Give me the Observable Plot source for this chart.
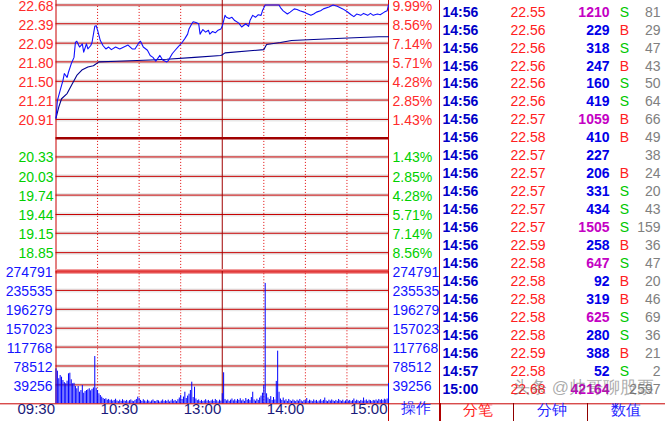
<!DOCTYPE html>
<html><head><meta charset="utf-8">
<script src="https://cdn.jsdelivr.net/npm/d3@7"></script>
<script src="https://cdn.jsdelivr.net/npm/@observablehq/plot@0.6"></script>
<style>
html,body{margin:0;padding:0;background:#fff;}
#wrap{position:relative;width:665px;height:421px;overflow:hidden;background:#fff;}
#wrap svg{position:absolute;left:0;top:0;}
.ln{position:absolute;background:#b00000;}
</style></head><body><div id="wrap"></div>
<script>
// ---------- data ----------
const prevClose = 20.62;
const priceUpTicks = ["22.68","22.39","22.09","21.80","21.50","21.21","20.91"];
const pctUpTicks = ["9.99%","8.56%","7.14%","5.71%","4.28%","2.85%","1.43%"];
const priceDownTicks = ["20.33","20.03","19.74","19.44","19.15","18.85"];
const pctDownTicks = ["1.43%","2.85%","4.28%","5.71%","7.14%","8.56%"];
const volumeTicks = [274791,235535,196279,157023,117768,78512,39256];
const timeTickLabels = ["09:30","10:30","13:00","14:00","15:00"];
const dottedGridTimes = ["10:00","10:30","11:00","13:30","14:00","14:30"];
const sessionBreak = ["13:00"];

const priceTimes = ["09:30","09:31","09:33","09:35","09:36","09:38","09:39","09:41","09:43","09:44","09:45","09:47","09:49","09:50","09:52","09:53","09:55","09:56","09:58","09:59","10:00","10:02","10:04","10:06","10:08","10:10","10:13","10:16","10:19","10:22","10:25","10:27","10:30","10:31","10:33","10:36","10:38","10:40","10:42","10:45","10:47","10:50","10:51","10:54","10:56","10:58","11:01","11:03","11:05","11:06","11:08","11:09","11:11","11:13","11:14","11:16","11:18","11:20","11:21","11:23","11:25","11:27","11:29","13:00","13:02","13:03","13:05","13:07","13:09","13:12","13:14","13:17","13:19","13:20","13:22","13:24","13:26","13:28","13:29","13:31","13:41","13:42","13:44","13:47","13:49","13:52","13:54","13:56","13:59","14:01","14:04","14:06","14:08","14:11","14:13","14:17","14:20","14:23","14:27","14:30","14:33","14:35","14:37","14:40","14:42","14:45","14:47","14:49","14:52","14:54","14:57","14:59","15:00"];
const priceValues = [20.93,21.20,21.36,21.51,21.62,21.56,21.64,21.77,21.87,22.10,22.12,22.03,22.08,21.95,22.08,22.00,22.05,22.10,22.35,22.36,22.29,22.13,22.05,22.00,22.03,21.99,22.03,22.00,22.03,22.06,22.00,22.00,22.10,22.12,22.03,21.98,21.90,21.87,21.81,21.90,21.83,21.80,21.82,21.93,21.98,22.03,22.10,22.16,22.23,22.31,22.39,22.42,22.41,22.39,22.23,22.30,22.26,22.29,22.23,22.27,22.25,22.29,22.31,22.35,22.52,22.49,22.47,22.49,22.44,22.40,22.34,22.39,22.35,22.44,22.52,22.49,22.53,22.52,22.59,22.68,22.68,22.64,22.59,22.54,22.57,22.62,22.61,22.59,22.57,22.55,22.52,22.54,22.57,22.59,22.62,22.65,22.68,22.66,22.62,22.58,22.53,22.50,22.54,22.52,22.55,22.52,22.55,22.52,22.54,22.53,22.57,22.59,22.68];

const avgTimes = ["09:30","09:32","09:34","09:38","09:41","09:45","09:49","09:53","09:57","10:01","10:14","10:38","10:50","11:10","11:29","13:00","13:02","13:30","13:32","13:42","13:50","14:10","14:31","14:53","15:00"];
const avgValues = [20.93,21.10,21.23,21.31,21.43,21.59,21.68,21.72,21.74,21.80,21.81,21.83,21.84,21.87,21.90,21.91,21.94,21.99,22.07,22.10,22.13,22.15,22.17,22.19,22.19];

// one bar per trading minute, from 09:30 to 15:00
const minuteVolumes = [
72700,67700,52000,58800,55300,48400,44000,41500,47000,62300,
63600,49800,41500,42500,36000,31200,35900,24100,27600,38000,
22000,25500,27600,29000,31200,27000,30000,33000,98200,32400,
27600,20800,17200,13800,11000,9000,10500,7500,9000,6500,
8000,5500,7000,9500,6000,4500,7500,5000,8500,6000,
5000,7000,4000,6500,8000,5500,4500,7000,9000,13800,
11000,7000,5000,8500,6000,4000,7500,5500,3500,6000,
8000,5000,4500,7000,6000,3500,5500,8000,4500,6500,
5000,7500,4000,6000,9000,5500,7000,4500,8500,12000,
17200,9000,14000,24100,11000,16000,20000,27600,44900,13000,
34500,10000,6500,8000,5000,7000,4500,6000,8500,5500,
7000,4500,6000,8000,5000,9000,6500,4000,7500,5500,
21000,64400,9000,6000,8000,5000,7500,10000,6000,8500,
5500,9000,7000,10500,6000,8000,5000,11000,7500,9000,
6500,13000,24000,8000,5500,9500,7000,12000,16000,22000,
38000,250000,20800,12000,9000,15000,7000,13000,8000,46500,
109300,24000,10000,7000,12000,6000,8500,5000,9000,6500,
5000,8000,6000,4500,7500,5500,9000,6000,4000,7000,
6500,11000,5000,7500,6000,4500,8000,5500,7000,4000,
6000,8500,5000,7000,12000,6000,4500,7500,5500,8000,
6000,4500,7000,5000,9000,6500,5000,7500,4000,6000,
8000,5500,7000,4500,6500,10000,5000,7500,6000,4500,
7000,5500,12000,6000,8000,5000,7500,6500,4500,7000,
6000,8000,5500,9000,7000,8500,6500,9500,8000,10000,
42164];

const tradeTimes = ["14:56","14:56","14:56","14:56","14:56","14:56","14:56","14:56","14:56","14:56","14:56","14:56","14:56","14:56","14:56","14:56","14:56","14:56","14:56","14:56","14:57","15:00"];
const tradePrices = [22.55,22.56,22.56,22.56,22.56,22.56,22.57,22.58,22.57,22.57,22.57,22.57,22.57,22.59,22.58,22.58,22.58,22.58,22.58,22.59,22.58,22.68];
const tradeVolumes = [1210,229,318,247,160,419,1059,410,227,206,331,434,1505,258,647,92,319,625,280,388,52,42164];
const tradeSides = ["S","B","S","B","S","S","B","B","","B","S","S","S","B","S","B","B","S","S","B","S",""];
const tradeCounts = [81,29,47,43,50,64,66,49,38,24,20,43,159,36,47,20,46,69,36,21,2,2597];
const tabLabels = ["分笔","分钟","数值"];
const actionLabel = "操作";
const watermark = "头条 @帅哥聊股票";

// ---------- helpers ----------
const toIdx = t => { const [h, m] = t.split(":").map(Number); const tm = h * 60 + m; return tm <= 690 ? tm - 570 : tm - 660; };
const FONT = "'Liberation Sans', Arial, sans-serif";
const xS = {domain: [0, 240], range: [55.5, 388], axis: null};
const baseStyle = {background: "transparent", fontFamily: FONT, overflow: "visible"};
const wrap = document.getElementById("wrap");
const RED = "#c80000";

const priceData = priceTimes.map((t, i) => ({x: toIdx(t), y: priceValues[i]}));
const avgData = avgTimes.map((t, i) => ({x: toIdx(t), y: avgValues[i]}));
const volData = minuteVolumes.map((v, i) => ({x: i, v}));
const upT = priceUpTicks.map((p, i) => ({y: +p, p, pct: pctUpTicks[i]}));
const dnT = priceDownTicks.map((p, i) => ({y: +p, p, pct: pctDownTicks[i]}));
const allPriceGrid = [...upT, ...dnT];

// ---------- price panel ----------
const pricePlot = Plot.plot({
  width: 665, height: 421, margin: 0,
  style: baseStyle,
  x: xS,
  y: {domain: [18.56, 22.68], range: [270.9, 4.5], axis: null},
  marks: [
    Plot.ruleY(allPriceGrid, {y: "y", x1: 0, x2: 240, stroke: "#e8e8e8", strokeWidth: 4}),
    Plot.ruleY(allPriceGrid, {y: "y", x1: 0, x2: 240, stroke: RED, strokeWidth: 1}),
    Plot.ruleY([prevClose], {x1: 0, x2: 240, stroke: "#a00000", strokeWidth: 2.5}),
    Plot.ruleX(dottedGridTimes, {x: toIdx, y1: 18.56, y2: 22.68, stroke: "#e00000", strokeDasharray: "1,2"}),
    Plot.ruleX(sessionBreak, {x: toIdx, y1: 18.56, y2: 22.8, stroke: "#a00000"}),
    Plot.ruleX([0], {y1: 18.56, y2: 22.8, stroke: RED}),
    Plot.ruleX([240], {y1: 18.56, y2: 22.8, stroke: RED}),
    Plot.line(avgData, {x: "x", y: "y", stroke: "#000090", strokeWidth: 1.1}),
    Plot.line(priceData, {x: "x", y: "y", stroke: "#1010ff", strokeWidth: 1.1}),
    Plot.text(upT, {y: "y", text: "p", frameAnchor: "left", dx: 53, dy: 1.5, textAnchor: "end", fill: "#ff2b2b", fontSize: 14}),
    Plot.text(upT, {y: "y", text: "pct", frameAnchor: "left", dx: 392, dy: 1.5, textAnchor: "start", fill: "#ff2b2b", fontSize: 14}),
    Plot.text(dnT, {y: "y", text: "p", frameAnchor: "left", dx: 53, dy: 1, textAnchor: "end", fill: "#00d000", fontSize: 14}),
    Plot.text(dnT, {y: "y", text: "pct", frameAnchor: "left", dx: 392, dy: 1, textAnchor: "start", fill: "#00d000", fontSize: 14})
  ]
});
wrap.appendChild(pricePlot);

// ---------- volume panel ----------
const volPlot = Plot.plot({
  width: 665, height: 421, margin: 0,
  style: baseStyle,
  x: xS,
  y: {domain: [0, 274791], range: [403.3, 271], axis: null},
  marks: [
    Plot.ruleY(volumeTicks.slice(1), {x1: 0, x2: 240, stroke: "#e8e8e8", strokeWidth: 4}),
    Plot.ruleY(volumeTicks.slice(1), {x1: 0, x2: 240, stroke: RED, strokeWidth: 1}),
    Plot.ruleY(volumeTicks.slice(0, 1), {x1: 0, x2: 240, stroke: "#f2a0a0", strokeWidth: 5}),
    Plot.ruleY(volumeTicks.slice(0, 1), {x1: 0, x2: 240, stroke: "#e23a3a", strokeWidth: 2.5}),
    Plot.ruleX(dottedGridTimes, {x: toIdx, y1: 0, y2: 274791, stroke: "#e00000", strokeDasharray: "1,2"}),
    Plot.ruleX(sessionBreak, {x: toIdx, y1: 0, y2: 274791, stroke: "#a00000"}),
    Plot.ruleX([0], {y1: 0, y2: 274791, stroke: RED}),
    Plot.ruleX([240], {y1: -40000, y2: 274791, stroke: RED}),
    Plot.ruleX(volData, {x: "x", y1: 0, y2: "v", stroke: "#0000ff", strokeWidth: 1}),
    Plot.ruleY([0], {stroke: RED, strokeWidth: 1}),
    Plot.text(volumeTicks, {y: d => d, text: d => String(d), frameAnchor: "left", dx: 52, dy: 1.5, textAnchor: "end", fill: "#1414ff", fontSize: 14}),
    Plot.text(volumeTicks, {y: d => d, text: d => String(d), frameAnchor: "left", dx: 392, dy: 1.5, textAnchor: "start", fill: "#1414ff", fontSize: 14}),
    Plot.text(timeTickLabels, {x: toIdx, text: d => d, frameAnchor: "bottom", dy: -8, dx: -1, textAnchor: "end", fill: "#1a1a7a", fontSize: 15})
  ]
});
wrap.appendChild(volPlot);

// ---------- trade detail table ----------
const rows = tradeTimes.map((t, i) => ({i, t, p: tradePrices[i].toFixed(2), v: String(tradeVolumes[i]), vol: tradeVolumes[i], s: tradeSides[i], c: String(tradeCounts[i])}));
const tablePlot = Plot.plot({
  width: 665, height: 421, margin: 0,
  style: baseStyle,
  y: {domain: [0, 21], range: [11.7, 388.6], axis: null},
  marks: [
    Plot.text(rows, {y: "i", text: "t", frameAnchor: "left", dx: 442, textAnchor: "start", fill: "#0000c8", fontWeight: "bold", fontSize: 14}),
    Plot.text(rows, {y: "i", text: "p", frameAnchor: "left", dx: 510, textAnchor: "start", fill: "#ff2020", fontSize: 14}),
    Plot.text(rows, {y: "i", text: "v", frameAnchor: "left", dx: 609, textAnchor: "end", fill: d => d.vol >= 500 ? "#c400c4" : "#0000e8", fontWeight: "bold", fontSize: 14}),
    Plot.text(rows, {y: "i", text: "s", frameAnchor: "left", dx: 624, textAnchor: "middle", fill: d => d.s === "B" ? "#ff2020" : "#00c800", fontSize: 14}),
    Plot.text(rows, {y: "i", text: "c", frameAnchor: "left", dx: 660, textAnchor: "end", fill: "#808080", fontSize: 14}),
    Plot.text([watermark], {frameAnchor: "bottom-left", dx: 583, dy: -29, textAnchor: "middle", fill: "rgba(90,90,90,0.5)", fontSize: 17}),
    Plot.text([actionLabel], {frameAnchor: "bottom-left", dx: 415, dy: -9, textAnchor: "middle", fill: "#1f1fff", fontSize: 15}),
    Plot.text([tabLabels[0]], {frameAnchor: "bottom-left", dx: 477, dy: -7, textAnchor: "middle", fill: "#ff1a1a", fontSize: 15}),
    Plot.text([tabLabels[1]], {frameAnchor: "bottom-left", dx: 551, dy: -7, textAnchor: "middle", fill: "#1f1fff", fontSize: 15}),
    Plot.text([tabLabels[2]], {frameAnchor: "bottom-left", dx: 625, dy: -7, textAnchor: "middle", fill: "#1f1fff", fontSize: 15})
  ]
});
wrap.appendChild(tablePlot);

// table borders
function line(l, t, w, h, c) { const d = document.createElement("div"); d.className = "ln"; Object.assign(d.style, {left: l + "px", top: t + "px", width: w + "px", height: h + "px", background: c}); wrap.appendChild(d); }
line(439, 0, 1, 421, "#c00000");
line(439, 403, 2, 18, "#b00000");
line(513, 403, 1, 18, "#900000");
line(587, 403, 1, 18, "#900000");
</script></body></html>
